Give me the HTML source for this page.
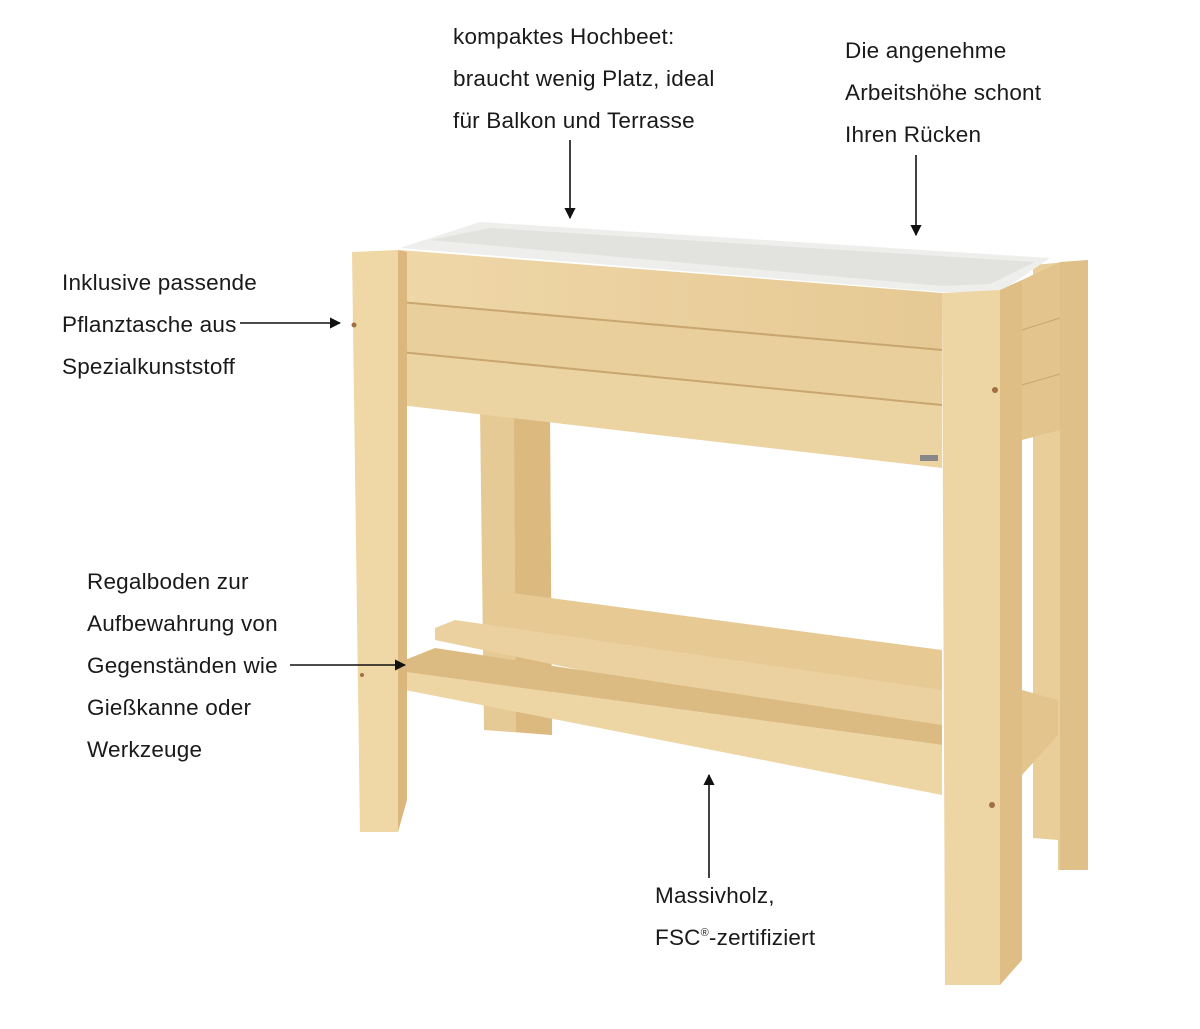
<!DOCTYPE html>
<html><head><meta charset="utf-8"><style>
html,body{margin:0;padding:0;background:#fff;}
body{width:1200px;height:1029px;position:relative;overflow:hidden;font-family:"Liberation Sans",sans-serif;}
.t{position:absolute;font-size:22.5px;color:#1a1a1a;line-height:42px;white-space:nowrap;letter-spacing:0.2px;}
sup{font-size:11px;line-height:0;vertical-align:9px;}
svg{position:absolute;left:0;top:0;}
</style></head><body>
<svg width="1200" height="1029" viewBox="0 0 1200 1029">
<defs>
<linearGradient id="w" x1="0" y1="0" x2="1" y2="0"><stop offset="0" stop-color="#efd7a8"/><stop offset="1" stop-color="#e6c994"/></linearGradient>
<marker id="a" viewBox="0 0 10 10" refX="9" refY="5" markerWidth="7" markerHeight="7" orient="auto"><path d="M0,0L10,5L0,10z" fill="#111"/></marker>
</defs>
<polygon points="480,410 550,418 552,735 484,730" fill="#e6ca96"/>
<polygon points="514,414 550,418 552,735 516,732" fill="#dbb97f"/>
<polygon points="1033,265 1088,260 1088,870 1058,870 1058,840 1033,838" fill="#e9ce9a"/>
<polygon points="1060,262 1088,260 1088,870 1060,870" fill="#dfc089"/>
<polygon points="400,248 480,222 1050,258 1000,292 942,292" fill="#eeeeec"/>
<polygon points="430,240 490,228 1035,262 990,284 942,286" fill="#e2e2df"/>
<polygon points="1022,280 1060,262 1060,430 1022,440" fill="#e3c48c"/>
<line x1="1022" y1="330" x2="1060" y2="318" stroke="#c9a66c"/>
<line x1="1022" y1="385" x2="1060" y2="374" stroke="#c9a66c"/>
<polygon points="490,590 942,650 942,695 490,625" fill="#e7c994"/>
<polygon points="435,628 455,620 942,690 942,745 435,640" fill="#ebd19f"/>
<polygon points="405,660 435,648 942,725 942,745 405,672" fill="#dcbb82"/>
<polygon points="405,672 942,745 942,795 405,690" fill="#eed5a4"/>
<polygon points="1022,690 1058,700 1058,735 1022,775" fill="#e3c48c"/>
<polygon points="400,250 942,293 942,350 400,302" fill="url(#w)"/>
<polygon points="400,302 942,350 942,405 400,352" fill="#e9cf9c"/>
<polygon points="400,352 942,405 942,468 400,405" fill="#ecd3a2"/>
<line x1="400" y1="302" x2="942" y2="350" stroke="#c9a670" stroke-width="2"/>
<line x1="400" y1="352" x2="942" y2="405" stroke="#c9a670" stroke-width="2"/>
<rect x="920" y="455" width="18" height="6" fill="#888"/>
<polygon points="352,252 398,250 398,832 360,832" fill="#efd7a6"/>
<polygon points="398,250 407,252 407,800 398,832" fill="#dbb77e"/>
<polygon points="942,293 1000,290 1000,985 945,985" fill="#eed5a4"/>
<polygon points="1000,290 1022,280 1022,960 1000,985" fill="#dfbe86"/>
<circle cx="354" cy="325" r="2.5" fill="#a07040"/><circle cx="995" cy="390" r="3" fill="#a07040"/><circle cx="992" cy="805" r="3" fill="#a07040"/><circle cx="362" cy="675" r="2" fill="#a07040"/>
<g stroke="#111" stroke-width="1.6" fill="none" marker-end="url(#a)">
<line x1="570" y1="140" x2="570" y2="218"/>
<line x1="916" y1="155" x2="916" y2="235"/>
<line x1="240" y1="323" x2="340" y2="323"/>
<line x1="290" y1="665" x2="405" y2="665"/>
<line x1="709" y1="878" x2="709" y2="775"/>
</g>
</svg>
<div class="t" style="left:453px;top:16px">kompaktes Hochbeet:<br>braucht wenig Platz, ideal<br>für Balkon und Terrasse</div>
<div class="t" style="left:845px;top:30px">Die angenehme<br>Arbeitshöhe schont<br>Ihren Rücken</div>
<div class="t" style="left:62px;top:262px">Inklusive passende<br>Pflanztasche aus<br>Spezialkunststoff</div>
<div class="t" style="left:87px;top:561px">Regalboden zur<br>Aufbewahrung von<br>Gegenständen wie<br>Gießkanne oder<br>Werkzeuge</div>
<div class="t" style="left:655px;top:875px">Massivholz,<br>FSC<sup>®</sup>-zertifiziert</div>
</body></html>
